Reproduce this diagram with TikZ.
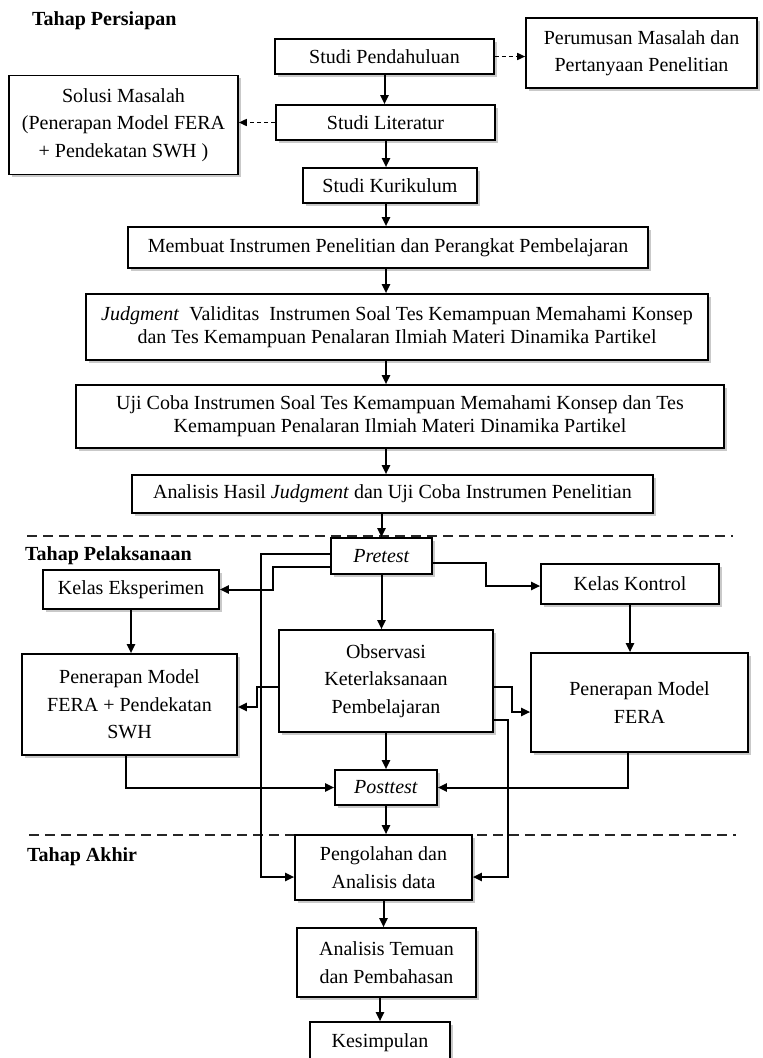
\documentclass[tikz,border=0pt]{standalone}
\usepackage{fontspec}
\setmainfont{Liberation Serif}
\usetikzlibrary{arrows.meta,shadows,calc}
\tikzset{
 box/.style={draw, line width=1.6pt, fill=white, align=center, inner sep=0pt,
   font=\fontsize{20}{23}\selectfont,
   drop shadow={shadow xshift=2.5pt,shadow yshift=-2.5pt,fill=black!35,opacity=0.6}},
 tall/.style={font=\fontsize{20}{27.5}\selectfont},
 arr/.style={line width=2pt, -{Triangle[length=9pt,width=8pt]}},
 darr/.style={line width=1.6pt, dash pattern=on 4pt off 3pt, -{Triangle[length=8pt,width=7pt]}},
 sepline/.style={line width=1.8pt, dash pattern=on 10pt off 6pt, black!85},
 head/.style={font=\fontsize{20}{23}\selectfont\bfseries, inner sep=0pt, anchor=west},
}
\begin{document}
\begin{tikzpicture}[x=1pt,y=-1pt]
\path[use as bounding box, clip] (0,0) rectangle (763,1058);
\fill[white] (0,0) rectangle (763,1058);

% separators
\coordinate (s1a) at (27,536); \coordinate (s1b) at (733,536);
\coordinate (s2a) at (29,835); \coordinate (s2b) at (736,835);
\draw[sepline] (s1a) -- (s1b);
\draw[sepline] (s2a) -- (s2b);

% headings
\node[head] (h1) at (32,21) {Tahap Persiapan};
\node[head] (h2) at (25,556) {Tahap Pelaksanaan};
\node[head] (h3) at (27,857) {Tahap Akhir};

% preparation stage
\node[box, minimum width=219pt, minimum height=35pt] (sp) at (384.5,56.5) {Studi Pendahuluan};
\node[box, tall, minimum width=231pt, minimum height=70pt] (pm) at (641.5,53) {Perumusan Masalah dan\\Pertanyaan Penelitian};
\node[box, tall, minimum width=229pt, minimum height=99pt] (sol) at (123.5,125) {Solusi Masalah\\(Penerapan Model FERA\\+ Pendekatan SWH )};
\node[box, minimum width=219pt, minimum height=35pt] (sl) at (385.5,122.5) {Studi Literatur};
\node[box, minimum width=174pt, minimum height=35pt] (sk) at (390,185.5) {Studi Kurikulum};
\node[box, minimum width=520pt, minimum height=41pt] (mb) at (388,247.5) {Membuat Instrumen Penelitian dan Perangkat Pembelajaran};
\node[box, minimum width=622pt, minimum height=66pt] (jd) at (397,327) {\textit{Judgment}\ \ Validitas\ \ Instrumen Soal Tes Kemampuan Memahami Konsep\\dan Tes Kemampuan Penalaran Ilmiah Materi Dinamika Partikel};
\node[box, minimum width=648pt, minimum height=63pt] (uc) at (400,416.5) {Uji Coba Instrumen Soal Tes Kemampuan Memahami Konsep dan Tes\\Kemampuan Penalaran Ilmiah Materi Dinamika Partikel};
\node[box, minimum width=521pt, minimum height=38pt] (ah) at (392.5,494) {Analisis Hasil \textit{Judgment} dan Uji Coba Instrumen Penelitian};

% implementation stage
\node[box, minimum width=101pt, minimum height=36pt] (pre) at (381.5,556) {\textit{Pretest}};
\node[box, minimum width=176pt, minimum height=39pt] (ke) at (131,589.5) {Kelas Eksperimen};
\node[box, minimum width=178pt, minimum height=40pt] (kk) at (630,584) {Kelas Kontrol};
\node[box, tall, minimum width=214pt, minimum height=102pt] (obs) at (386,681) {Observasi\\Keterlaksanaan\\Pembelajaran};
\node[box, tall, minimum width=215pt, minimum height=101pt] (penl) at (129.5,704.5) {Penerapan Model\\FERA + Pendekatan\\SWH};
\node[box, tall, minimum width=217pt, minimum height=99pt] (penr) at (639.5,702.5) {Penerapan Model\\FERA};
\node[box, minimum width=102pt, minimum height=35pt] (post) at (386,787.5) {\textit{Posttest}};

% final stage
\node[box, tall, minimum width=177pt, minimum height=65pt] (peng) at (383.5,867.5) {Pengolahan dan\\Analisis data};
\node[box, tall, minimum width=179pt, minimum height=69pt] (at) at (386.5,962.5) {Analisis Temuan\\dan Pembahasan};
\node[box, minimum width=140pt, minimum height=42pt] (kes) at (380,1043) {Kesimpulan};

% dashed arrows
\draw[darr] (sp.east) -- (sp.east -| pm.west);
\draw[darr] (sl.west) -- (sl.west -| sol.east);

% trunk
\coordinate (trunk) at (386,0);
\draw[arr] (sp.south) -- (sp.south |- sl.north);
\draw[arr] (sl.south -| trunk) -- (sk.north -| trunk);
\draw[arr] (sk.south -| trunk) -- (mb.north -| trunk);
\draw[arr] (mb.south -| trunk) -- (jd.north -| trunk);
\draw[arr] (jd.south -| trunk) -- (uc.north -| trunk);
\draw[arr] (uc.south -| trunk) -- (ah.north -| trunk);
\draw[arr] (ah.south -| pre.north) -- (pre.north);

% from pretest
\draw[arr] ([yshift=2pt]pre.west) -| (261,877) -- ([yshift=-9.5pt]peng.west);
\draw[arr] ([yshift=-11pt]pre.west) -- (273,567) |- (ke.east);
\draw[arr] ([yshift=-7pt]pre.east) -- (486,563) |- ([yshift=-2pt]kk.west);
\draw[arr] (pre.south) -- (pre.south |- obs.north);
\draw[arr] (ke.south) -- (ke.south |- penl.north);
\draw[arr] (kk.south) -- (kk.south |- penr.north);

% from observation
\draw[arr] ([yshift=-6pt]obs.west) -- (257,687) |- ([yshift=-2.5pt]penl.east);
\draw[arr] ([yshift=-6pt]obs.east) -- (512,687) |- ([yshift=-9.5pt]penr.west);
\draw[arr] ([yshift=-39pt]obs.east) -- (508,720) |- ([yshift=-9.5pt]peng.east);
\draw[arr] (obs.south) -- (obs.south |- post.north);

% to posttest
\draw[arr] ([xshift=-3.5pt]penl.south) |- (post.west);
\draw[arr] ([xshift=-12pt]penr.south) |- (post.east);

% final
\draw[arr] (post.south) -- (post.south |- peng.north);
\draw[arr] (peng.south) -- (peng.south |- at.north);
\draw[arr] (at.south -| kes.north) -- (kes.north);
\end{tikzpicture}
\end{document}
